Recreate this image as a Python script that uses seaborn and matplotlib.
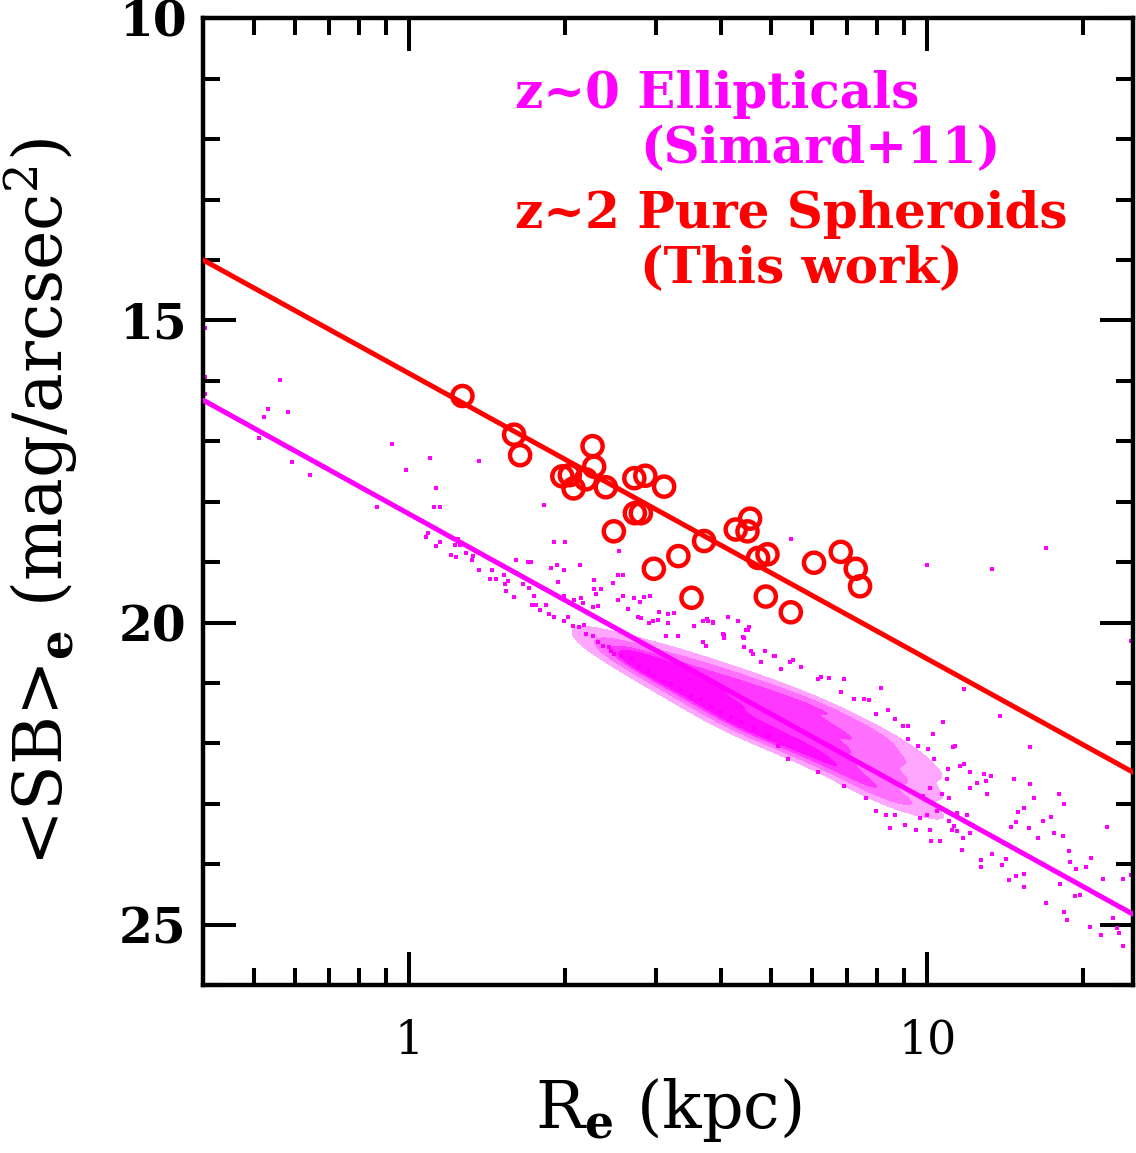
import numpy as np
import pandas as pd
import seaborn as sns
import matplotlib.pyplot as plt
from matplotlib.colors import ListedColormap
from matplotlib.ticker import FixedLocator, NullFormatter, MultipleLocator

#######################################
# data
#######################################
# z~2 pure spheroids (this work): Re in kpc, <SB>_e in mag/arcsec^2
sph_re = [1.266, 1.593, 1.636, 2.258, 2.274, 1.974, 2.041, 2.075, 2.192, 2.395,
          2.719, 2.855, 3.104, 2.725, 2.799, 2.482, 2.965, 3.307, 3.708, 3.506,
          4.268, 4.549, 4.497, 4.714, 4.915, 4.878, 5.452, 6.045, 6.808, 7.278,
          7.418]
sph_sb = [16.25, 16.89, 17.23, 17.08, 17.42, 17.58, 17.56, 17.78, 17.63, 17.76,
          17.61, 17.57, 17.75, 18.19, 18.19, 18.49, 19.11, 18.90, 18.65, 19.59,
          18.46, 18.28, 18.49, 18.93, 18.87, 19.57, 19.83, 19.01, 18.83, 19.11,
          19.40]

# fitted relations at the two ends of the x range
fit_re = [0.4, 25.0]
fit_sb_z2 = [14.00, 22.48]
fit_sb_z0 = [16.32, 24.83]

# Simard+11 ellipticals, dense core of the cloud (log10 Re, SB)
core_logre = ([0.399] * 3 + [0.437] * 3 + [0.476] * 4 + [0.515] * 4 + [0.553] * 4
              + [0.592] * 5 + [0.630] * 5 + [0.669] * 5 + [0.708] * 5 + [0.746] * 5
              + [0.785] * 5 + [0.823] * 5 + [0.862] * 5 + [0.901] * 5 + [0.939] * 4
              + [0.978] * 3)
core_sb = [20.36, 20.47, 20.57,
           20.44, 20.61, 20.74,
           20.52, 20.69, 20.85, 20.97,
           20.61, 20.81, 21.00, 21.17,
           20.69, 20.90, 21.10, 21.30,
           20.81, 21.02, 21.24, 21.43, 21.57,
           20.90, 21.14, 21.35, 21.57, 21.73,
           21.02, 21.24, 21.47, 21.68, 21.86,
           21.14, 21.35, 21.57, 21.80, 22.00,
           21.24, 21.47, 21.70, 21.93, 22.13,
           21.37, 21.60, 21.83, 22.06, 22.26,
           21.52, 21.77, 22.00, 22.23, 22.43,
           21.68, 21.93, 22.18, 22.43, 22.62,
           21.85, 22.13, 22.39, 22.66, 22.86,
           22.06, 22.34, 22.62, 22.92,
           22.34, 22.67, 23.00]

# scattered Simard+11 galaxies, small Re tail
left_logre = [-0.395, -0.395, -0.395, -0.250, -0.273, -0.281, -0.235, -0.291, -0.227, -0.192,
              -0.034, 0.040, 0.134, -0.007, 0.051, 0.047, 0.059, -0.063, 0.036, 0.032,
              0.094, 0.059, 0.051, 0.088, 0.098]
left_sb = [15.12, 15.94, 16.21, 15.98, 16.47, 16.59, 16.51, 16.94, 17.35, 17.56,
           17.04, 17.28, 17.32, 17.48, 17.78, 18.08, 18.08, 18.08, 18.52, 18.59,
           18.61, 18.67, 18.74, 18.71, 18.72]

# above / around the fit line, 1.2 - 5 kpc
upper_logre = [0.260, 0.080, 0.090, 0.109, 0.121, 0.123, 0.134, 0.159, 0.155, 0.167,
               0.182, 0.190, 0.206, 0.229, 0.235, 0.279, 0.300, 0.184, 0.186, 0.202,
               0.219, 0.231, 0.240, 0.236, 0.244, 0.252, 0.264, 0.273, 0.285, 0.298,
               0.329, 0.404, 0.287, 0.298, 0.318, 0.331, 0.335, 0.279, 0.269, 0.306,
               0.298, 0.316, 0.327, 0.337, 0.356, 0.356, 0.370, 0.360, 0.364, 0.354,
               0.393, 0.403, 0.412, 0.403, 0.412, 0.433, 0.445, 0.422, 0.453, 0.464,
               0.441, 0.447, 0.462, 0.470, 0.482, 0.499, 0.511, 0.480, 0.499, 0.549,
               0.567, 0.574, 0.586, 0.615, 0.634, 0.650, 0.656, 0.644, 0.605, 0.607,
               0.495, 0.518, 0.567, 0.659, 0.663, 0.646, 0.704]
upper_sb = [18.06, 18.89, 18.92, 18.85, 18.97, 18.90, 19.13, 19.13, 19.28, 19.28,
            19.22, 19.32, 18.97, 19.00, 19.00, 18.66, 18.67, 19.37, 19.48, 19.57,
            19.37, 19.43, 19.56, 19.71, 19.71, 19.80, 19.71, 19.09, 19.04, 19.13,
            19.05, 18.82, 19.33, 19.56, 19.63, 19.60, 19.68, 19.90, 19.86, 19.90,
            19.98, 20.06, 20.08, 20.04, 19.30, 19.45, 19.45, 19.53, 19.73, 19.75,
            19.35, 19.22, 19.22, 19.63, 19.56, 19.60, 19.66, 19.78, 19.58, 19.56,
            19.90, 19.93, 20.01, 19.98, 19.83, 19.86, 19.85, 19.96, 20.00, 20.06,
            19.98, 19.94, 19.99, 19.91, 19.98, 20.13, 20.08, 20.24, 20.19, 20.26,
            20.23, 20.23, 20.33, 20.47, 20.52, 20.41, 20.56]

# lower edge of the band
lower_logre = [0.341, 0.354, 0.364, 0.374, 0.385, 0.389, 0.395, 0.408, 0.428, 0.443,
               0.460, 0.472, 0.491, 0.505, 0.524, 0.543, 0.563, 0.582, 0.601, 0.621,
               0.640, 0.665, 0.692, 0.711]
lower_sb = [20.19, 20.23, 20.33, 20.39, 20.41, 20.47, 20.52, 20.56, 20.61, 20.72,
            20.80, 20.89, 20.97, 21.02, 21.10, 21.22, 21.27, 21.40, 21.48, 21.57,
            21.65, 21.76, 21.88, 22.04]

# around the band, 3.5 - 11 kpc
mid_logre = [0.572, 0.586, 0.576, 0.607, 0.646, 0.654, 0.686, 0.706, 0.735, 0.741,
             0.794, 0.810, 0.839, 0.910, 0.877, 0.887, 0.901, 0.924, 0.679, 0.717,
             0.756, 0.789, 0.833, 0.858, 0.962, 0.982, 1.001, 1.013, 1.040, 0.839,
             0.789, 0.731,
             0.736, 1.000, 1.126, 1.229, 1.393, 1.072, 1.140, 1.198]
mid_sb = [20.39, 20.01, 19.98, 20.21, 20.26, 20.13, 20.47, 20.56, 20.66, 20.62,
          20.90, 20.92, 20.94, 21.09, 21.27, 21.28, 21.52, 21.45, 20.66, 20.77,
          20.74, 20.94, 21.15, 21.27, 21.93, 22.04, 22.09, 22.26, 22.43, 22.71,
          22.47, 22.26,
          18.62, 19.05, 19.12, 18.77, 20.31, 21.10, 21.55, 22.06]

# large Re end of the band
right_logre = [1.115, 1.113, 1.123, 1.109, 1.096, 1.082, 1.076, 1.086, 1.082, 1.070,
               1.067, 1.057, 1.047, 1.043, 1.063, 1.072, 1.082, 1.049, 1.038, 1.028,
               1.024, 1.057, 1.043, 1.018, 1.005, 0.999, 0.991, 1.005, 1.011, 0.962,
               0.953, 0.937, 1.030, 1.053, 1.051, 1.007, 0.986, 0.979, 0.958, 0.937,
               0.928, 0.920, 0.901, 0.881]
right_sb = [22.84, 22.62, 22.54, 22.51, 22.66, 22.74, 23.19, 23.35, 23.48, 23.57,
            23.76, 23.45, 23.43, 23.29, 22.38, 22.34, 22.48, 22.06, 22.59, 22.84,
            23.62, 23.15, 22.90, 23.12, 23.43, 23.19, 22.87, 22.74, 21.85, 21.71,
            21.71, 21.60, 21.65, 22.04, 23.37, 23.62, 23.24, 23.43, 23.35, 23.19,
            23.40, 23.19, 23.12, 22.90]

# sparse tail beyond 13 kpc
tail_logre = [1.167, 1.198, 1.206, 1.254, 1.264, 1.175, 1.186, 1.196, 1.223, 1.240,
              1.244, 1.262, 1.213, 1.171, 1.161, 1.347, 1.273, 1.275, 1.316, 1.306,
              1.287, 1.339, 1.379, 1.393, 1.285, 1.296, 1.256, 1.229, 1.265, 1.269,
              1.186, 1.171, 1.157, 1.186, 1.153, 1.144, 1.125, 1.103, 1.103, 1.314,
              1.335, 1.358, 1.367, 1.371, 1.379]
tail_sb = [22.59, 22.67, 22.90, 22.84, 23.00, 23.14, 23.07, 23.40, 23.29, 23.22,
           23.48, 23.53, 23.57, 23.30, 23.38, 23.38, 23.78, 23.96, 23.90, 24.05,
           24.08, 24.24, 24.24, 24.18, 24.52, 24.51, 24.33, 24.64, 24.79, 24.92,
           24.38, 24.19, 24.26, 24.16, 23.91, 24.01, 23.83, 24.05, 23.93, 25.04,
           25.17, 24.89, 25.05, 25.14, 25.35]

#######################################
# tables
#######################################
groups = [(left_logre, left_sb), (upper_logre, upper_sb), (lower_logre, lower_sb),
          (mid_logre, mid_sb), (right_logre, right_sb), (tail_logre, tail_sb)]
sim = pd.DataFrame({
    're': 10 ** np.concatenate([np.asarray(g[0][:len(g[1])]) for g in groups]),
    'sb': np.concatenate([np.asarray(g[1][:len(g[0])]) for g in groups]),
})
core = pd.DataFrame({'re': 10 ** np.asarray(core_logre), 'sb': core_sb})
sph = pd.DataFrame({'re': sph_re, 'sb': sph_sb})

#######################################
# plot
#######################################
sns.set_theme(style='ticks')
plt.rcParams['font.family'] = ['DejaVu Serif']
plt.rcParams['mathtext.fontset'] = 'dejavuserif'
plt.rcParams['text.color'] = 'black'
plt.rcParams['axes.labelcolor'] = 'black'
plt.rcParams['xtick.color'] = 'black'
plt.rcParams['ytick.color'] = 'black'

MAG = '#ff00ff'
RED = '#ff0000'

fig = plt.figure(figsize=(11.36, 11.53), dpi=100)
ax = fig.add_axes([0.179, 0.1457, 0.8186, 0.8383])

sns.kdeplot(data=core, x='re', y='sb', log_scale=(True, False), fill=True,
            levels=[0.06, 0.2, 0.45, 0.75, 1.0], bw_adjust=0.75,
            cmap=ListedColormap(['#ffa6ff', '#ff70ff', '#ff38ff', '#ff0dff']),
            ax=ax, zorder=1)
sns.scatterplot(data=sim, x='re', y='sb', s=6, marker='s', color=MAG,
                linewidth=0, ax=ax, zorder=2)
sns.lineplot(x=fit_re, y=fit_sb_z0, color=MAG, linewidth=3.6, ax=ax, zorder=3)
sns.lineplot(x=fit_re, y=fit_sb_z2, color=RED, linewidth=3.6, ax=ax, zorder=3)
sns.scatterplot(data=sph, x='re', y='sb', s=210, facecolors='none',
                edgecolor=RED, linewidth=3.2, ax=ax, zorder=4)

ax.set_xscale('log')
ax.set_xlim(0.4, 25)
ax.set_ylim(26, 10)

ax.xaxis.set_major_locator(FixedLocator([1, 10]))
ax.set_xticklabels(['1', '10'])
ax.xaxis.set_minor_locator(FixedLocator([0.5, 0.6, 0.7, 0.8, 0.9,
                                         2, 3, 4, 5, 6, 7, 8, 9, 20]))
ax.xaxis.set_minor_formatter(NullFormatter())
ax.yaxis.set_major_locator(FixedLocator([10, 15, 20, 25]))
ax.yaxis.set_minor_locator(MultipleLocator(1))

for s in ax.spines.values():
    s.set_visible(True)
    s.set_linewidth(3.2)
    s.set_color('black')
ax.tick_params(which='both', direction='in', bottom=True, left=True,
               top=True, right=True, color='black', width=2.9)
ax.tick_params(which='major', length=24)
ax.tick_params(which='minor', length=12)
ax.tick_params(axis='x', which='major', pad=24, labelsize=33)
ax.tick_params(axis='y', which='major', pad=12)
for lab in ax.get_yticklabels():
    lab.set_fontsize(35)
    lab.set_fontweight('bold')

ax.set_xlabel(r'R$_\mathbf{e}$ (kpc)', fontsize=47)
ax.set_ylabel(r'<SB>$_\mathbf{e}$ (mag/arcsec$^2$)', fontsize=48)
ax.xaxis.set_label_coords(0.5, -0.094)
ax.yaxis.set_label_coords(-0.133, 0.5)

ax.text(0.335, 0.921, 'z~0 Ellipticals', color=MAG, fontsize=36,
        fontweight='bold', transform=ax.transAxes, va='center')
ax.text(0.470, 0.864, '(Simard+11)', color=MAG, fontsize=36,
        fontweight='bold', transform=ax.transAxes, va='center')
ax.text(0.335, 0.797, 'z~2 Pure Spheroids', color=RED, fontsize=36,
        fontweight='bold', transform=ax.transAxes, va='center')
ax.text(0.470, 0.740, '(This work)', color=RED, fontsize=36,
        fontweight='bold', transform=ax.transAxes, va='center')

plt.savefig('out.png', dpi=100)
